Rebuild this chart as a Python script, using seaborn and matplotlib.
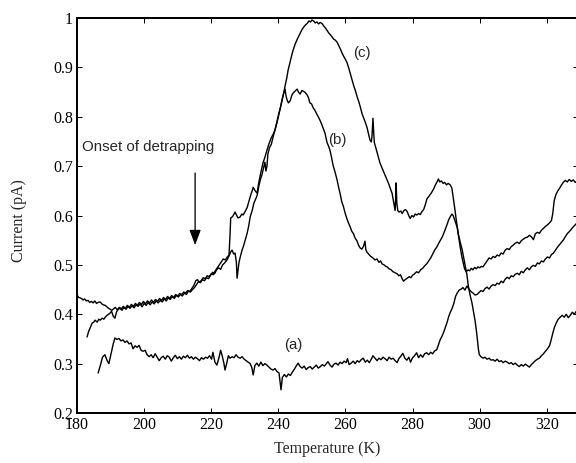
import numpy as np
import pandas as pd
import matplotlib
matplotlib.use("Agg")
import matplotlib.pyplot as plt
import seaborn as sns

# ---------------- data ----------------
T_a = [186.3, 186.9, 187.6, 188.3, 189.0, 189.5, 190.2, 190.8, 191.3, 191.9, 192.5, 193.1, 193.7, 194.3, 194.9,
       195.5, 196.1, 196.7, 197.3, 197.9, 198.5, 199.1, 199.7, 200.3, 200.9, 201.5, 202.1, 202.7, 203.3, 203.9,
       204.5, 205.1, 205.7, 206.3, 206.9, 207.5, 208.1, 208.7, 209.3, 209.9, 210.5, 211.1, 211.7, 212.3, 212.9,
       213.5, 214.1, 214.7, 215.3, 215.9, 216.5, 217.1, 217.7, 218.3, 218.9, 219.5, 220.1, 220.5, 221.1, 221.7,
       222.3, 222.8, 223.3, 223.8, 224.1, 224.6, 225.1, 225.6, 226.2, 226.8, 227.4, 228.0, 228.6, 229.2, 229.8,
       230.4, 231.0, 231.6, 232.1, 232.5, 233.0, 233.6, 234.2, 234.8, 235.4, 236.0, 236.6, 237.2, 237.8, 238.4,
       239.0, 239.6, 240.2, 240.8, 241.2, 241.8, 242.4, 243.0, 243.6, 244.2, 244.8, 245.4, 245.9, 246.5, 247.1,
       247.7, 248.3, 248.9, 249.5, 250.1, 250.7, 251.3, 251.9, 252.5, 253.1, 253.7, 254.3, 254.8, 255.4, 256.0,
       256.6, 257.2, 257.8, 258.4, 259.0, 259.6, 260.2, 260.6, 261.1, 261.7, 262.3, 262.9, 263.5, 264.1, 264.7,
       265.3, 265.9, 266.5, 267.1, 267.7, 268.2, 268.8, 269.4, 270.0, 270.6, 271.2, 271.8, 272.4, 273.0, 273.6,
       274.2, 274.8, 275.4, 275.9, 276.5, 277.1, 277.7, 278.3, 278.9, 279.4, 280.0, 280.6, 281.2, 281.8, 282.4,
       283.0, 283.6, 284.2, 284.8, 285.4, 286.0, 286.6, 287.2, 287.6, 288.2, 288.8, 289.3, 289.8, 290.3, 290.8,
       291.3, 291.8, 292.3, 292.8, 293.3, 293.9, 294.5, 295.0, 295.6, 296.2, 296.8, 297.4, 298.0, 298.6, 299.2,
       299.8, 300.4, 301.0, 301.6, 302.2, 302.8, 303.4, 304.0, 304.6, 305.2, 305.8, 306.4, 307.0, 307.6, 308.2,
       308.8, 309.4, 310.0, 310.6, 311.2, 311.8, 312.4, 313.0, 313.6, 314.2, 314.8, 315.4, 316.0, 316.6, 317.2,
       317.8, 318.4, 319.0, 319.6, 320.2, 320.8, 321.4, 322.0, 322.6, 323.2, 323.8, 324.4, 325.0, 325.6, 326.2,
       326.8, 327.4, 328.0, 328.6, 329.2]
I_a = [0.281, 0.295, 0.313, 0.318, 0.306, 0.300, 0.322, 0.340, 0.352, 0.349, 0.351, 0.346, 0.348, 0.343, 0.346,
       0.340, 0.342, 0.330, 0.336, 0.333, 0.337, 0.327, 0.325, 0.327, 0.318, 0.314, 0.318, 0.312, 0.320, 0.313,
       0.306, 0.312, 0.315, 0.309, 0.316, 0.313, 0.305, 0.312, 0.317, 0.310, 0.314, 0.309, 0.315, 0.312, 0.317,
       0.311, 0.314, 0.309, 0.313, 0.310, 0.306, 0.312, 0.309, 0.313, 0.311, 0.316, 0.309, 0.323, 0.303, 0.297,
       0.312, 0.327, 0.315, 0.300, 0.287, 0.300, 0.316, 0.311, 0.314, 0.312, 0.318, 0.313, 0.311, 0.314, 0.309,
       0.306, 0.303, 0.300, 0.292, 0.277, 0.296, 0.301, 0.295, 0.303, 0.296, 0.300, 0.297, 0.293, 0.289, 0.287,
       0.290, 0.284, 0.281, 0.247, 0.272, 0.278, 0.273, 0.279, 0.276, 0.283, 0.289, 0.296, 0.301, 0.294, 0.291,
       0.295, 0.288, 0.292, 0.294, 0.289, 0.293, 0.297, 0.291, 0.294, 0.298, 0.295, 0.300, 0.304, 0.297, 0.293,
       0.299, 0.301, 0.297, 0.303, 0.300, 0.305, 0.302, 0.310, 0.298, 0.301, 0.305, 0.300, 0.306, 0.303, 0.308,
       0.311, 0.303, 0.307, 0.302, 0.309, 0.316, 0.311, 0.306, 0.311, 0.308, 0.313, 0.310, 0.306, 0.313, 0.309,
       0.311, 0.306, 0.302, 0.310, 0.315, 0.321, 0.311, 0.307, 0.313, 0.303, 0.312, 0.316, 0.322, 0.312, 0.318,
       0.313, 0.320, 0.322, 0.318, 0.323, 0.320, 0.326, 0.328, 0.336, 0.348, 0.356, 0.364, 0.374, 0.384, 0.396,
       0.405, 0.412, 0.422, 0.436, 0.443, 0.449, 0.451, 0.454, 0.449, 0.457, 0.451, 0.446, 0.443, 0.439, 0.440,
       0.444, 0.448, 0.446, 0.452, 0.455, 0.451, 0.457, 0.460, 0.458, 0.463, 0.461, 0.467, 0.464, 0.471, 0.475,
       0.472, 0.478, 0.476, 0.481, 0.483, 0.480, 0.487, 0.484, 0.490, 0.494, 0.490, 0.496, 0.499, 0.497, 0.504,
       0.502, 0.508, 0.506, 0.512, 0.516, 0.514, 0.521, 0.524, 0.530, 0.536, 0.541, 0.546, 0.551, 0.558, 0.564,
       0.568, 0.573, 0.578, 0.582, 0.587]

T_b = [183.0, 183.5, 183.9, 184.5, 185.0, 185.4, 186.0, 186.5, 186.9, 187.5, 188.0, 188.4, 189.0, 189.4, 189.8,
       190.3, 190.8, 191.3, 191.8, 192.3, 192.8, 193.4, 194.0, 194.6, 195.2, 195.8, 196.4, 197.0, 197.6, 198.2,
       198.8, 199.4, 200.0, 200.6, 201.2, 201.8, 202.4, 203.0, 203.6, 204.2, 204.8, 205.4, 206.0, 206.6, 207.2,
       207.8, 208.4, 209.0, 209.6, 210.2, 210.8, 211.4, 212.0, 212.6, 213.2, 213.8, 214.4, 215.0, 215.6, 216.2,
       216.8, 217.4, 218.0, 218.6, 219.2, 219.8, 220.4, 221.0, 221.6, 222.2, 222.8, 223.4, 224.0, 224.7, 225.3,
       225.8, 226.2, 226.7, 227.1, 227.5, 227.7, 228.0, 228.3, 228.8, 229.2, 229.7, 230.2, 230.7, 231.2, 231.6,
       232.2, 232.7, 233.1, 233.7, 234.2, 234.7, 235.1, 235.6, 236.0, 236.3, 236.6, 236.9, 237.4, 237.9, 238.4,
       239.0, 239.5, 240.0, 240.6, 241.1, 241.6, 242.0, 242.3, 242.6, 243.0, 243.5, 244.0, 244.4, 245.0, 245.6,
       246.0, 246.5, 247.0, 247.4, 248.0, 248.6, 249.0, 249.4, 249.9, 250.4, 250.9, 251.4, 251.9, 252.4, 252.9,
       253.4, 253.9, 254.5, 255.0, 255.4, 255.9, 256.3, 256.9, 257.5, 258.0, 258.4, 258.9, 259.4, 259.9, 260.4,
       260.9, 261.4, 261.9, 262.4, 262.9, 263.4, 263.9, 264.4, 264.9, 265.4, 265.8, 266.1, 266.4, 266.9, 267.4,
       268.2, 268.8, 269.4, 270.0, 270.5, 270.9, 271.5, 272.0, 272.4, 273.0, 273.6, 274.2, 274.8, 275.4, 275.9,
       276.4, 276.9, 277.3, 277.8, 278.4, 279.0, 279.5, 280.0, 280.6, 281.2, 281.8, 282.4, 283.0, 283.6, 284.2,
       284.8, 285.4, 286.0, 286.6, 287.2, 287.8, 288.3, 288.8, 289.3, 289.8, 290.3, 290.8, 291.3, 291.7, 292.1,
       292.5, 292.9, 293.3, 293.7, 294.2, 294.7, 295.1, 295.5, 296.0, 296.5, 297.0, 297.5, 298.0, 298.5, 299.0,
       299.5, 300.0, 300.5, 301.0, 301.6, 302.2, 302.8, 303.4, 304.0, 304.6, 305.2, 305.8, 306.4, 307.0, 307.6,
       308.2, 308.8, 309.4, 310.0, 310.6, 311.2, 311.8, 312.4, 313.0, 313.6, 314.2, 314.8, 315.4, 316.0, 316.6,
       317.2, 317.8, 318.4, 319.0, 319.6, 320.2, 320.8, 321.4, 321.8, 322.2, 322.7, 323.2, 323.8, 324.4, 324.9,
       325.5, 326.1, 326.7, 327.3, 327.9, 328.5, 329.1]
I_b = [0.354, 0.366, 0.372, 0.382, 0.384, 0.388, 0.384, 0.390, 0.388, 0.392, 0.390, 0.394, 0.398, 0.400, 0.402,
       0.406, 0.396, 0.392, 0.405, 0.410, 0.412, 0.408, 0.414, 0.410, 0.416, 0.412, 0.417, 0.413, 0.419, 0.416,
       0.421, 0.415, 0.422, 0.418, 0.424, 0.419, 0.425, 0.421, 0.427, 0.423, 0.428, 0.425, 0.431, 0.427, 0.433,
       0.430, 0.436, 0.432, 0.438, 0.435, 0.440, 0.437, 0.443, 0.440, 0.447, 0.445, 0.450, 0.454, 0.460, 0.466,
       0.464, 0.470, 0.468, 0.474, 0.472, 0.479, 0.485, 0.482, 0.490, 0.494, 0.491, 0.500, 0.504, 0.510, 0.518,
       0.526, 0.530, 0.522, 0.524, 0.505, 0.473, 0.490, 0.506, 0.520, 0.530, 0.540, 0.552, 0.564, 0.580, 0.597,
       0.610, 0.625, 0.631, 0.641, 0.660, 0.674, 0.682, 0.696, 0.708, 0.690, 0.700, 0.725, 0.738, 0.744, 0.758,
       0.773, 0.786, 0.800, 0.818, 0.834, 0.848, 0.856, 0.842, 0.834, 0.828, 0.832, 0.843, 0.848, 0.852, 0.856,
       0.850, 0.846, 0.853, 0.852, 0.849, 0.844, 0.838, 0.828, 0.826, 0.818, 0.813, 0.806, 0.800, 0.793, 0.785,
       0.776, 0.767, 0.748, 0.740, 0.732, 0.716, 0.702, 0.688, 0.672, 0.656, 0.645, 0.628, 0.618, 0.605, 0.594,
       0.585, 0.577, 0.568, 0.563, 0.554, 0.549, 0.540, 0.534, 0.532, 0.538, 0.548, 0.530, 0.526, 0.522, 0.518,
       0.514, 0.510, 0.512, 0.505, 0.508, 0.502, 0.500, 0.497, 0.496, 0.492, 0.490, 0.486, 0.484, 0.482, 0.478,
       0.480, 0.472, 0.467, 0.470, 0.473, 0.476, 0.474, 0.479, 0.482, 0.486, 0.484, 0.490, 0.493, 0.498, 0.502,
       0.508, 0.514, 0.522, 0.530, 0.536, 0.544, 0.550, 0.556, 0.564, 0.573, 0.582, 0.592, 0.598, 0.603, 0.600,
       0.592, 0.584, 0.576, 0.558, 0.536, 0.516, 0.504, 0.492, 0.486, 0.490, 0.488, 0.493, 0.490, 0.495, 0.492,
       0.496, 0.494, 0.497, 0.496, 0.502, 0.508, 0.514, 0.512, 0.517, 0.515, 0.520, 0.518, 0.524, 0.522, 0.530,
       0.533, 0.531, 0.537, 0.540, 0.544, 0.546, 0.543, 0.549, 0.552, 0.555, 0.556, 0.560, 0.557, 0.551, 0.563,
       0.566, 0.564, 0.570, 0.574, 0.578, 0.581, 0.585, 0.590, 0.605, 0.630, 0.642, 0.649, 0.655, 0.662, 0.667,
       0.671, 0.668, 0.673, 0.669, 0.672, 0.667, 0.670]

T_c = [180.0, 180.5, 181.0, 181.5, 181.8, 182.3, 182.8, 183.3, 183.8, 184.3, 184.8, 185.3, 185.8, 186.3, 186.9,
       187.4, 187.9, 188.4, 188.9, 189.4, 189.9, 190.4, 190.9, 191.4, 192.0, 192.6, 193.2, 193.8, 194.4, 195.0,
       195.6, 196.2, 196.8, 197.4, 198.0, 198.6, 199.2, 199.8, 200.4, 201.0, 201.6, 202.2, 202.8, 203.4, 204.0,
       204.6, 205.2, 205.8, 206.4, 207.0, 207.6, 208.2, 208.8, 209.4, 210.0, 210.6, 211.2, 211.8, 212.4, 213.0,
       213.6, 214.2, 214.8, 215.4, 215.9, 216.4, 217.0, 217.6, 218.2, 218.8, 219.4, 220.0, 220.6, 221.2, 221.8,
       222.4, 223.0, 223.6, 224.2, 224.8, 225.3, 225.6, 225.8, 226.4, 227.1, 227.6, 228.0, 228.6, 229.1, 229.5,
       230.1, 230.7, 231.2, 231.7, 232.2, 232.5, 233.1, 233.7, 234.1, 234.5, 235.0, 235.4, 236.0, 236.6, 237.2,
       237.8, 238.4, 239.0, 239.6, 240.2, 240.6, 241.1, 241.6, 242.0, 242.5, 242.9, 243.4, 243.9, 244.4, 245.0,
       245.5, 246.0, 246.5, 247.0, 247.6, 248.1, 248.6, 249.1, 249.6, 250.0, 250.5, 251.0, 251.5, 252.0, 252.5,
       253.0, 253.5, 254.0, 254.5, 255.0, 255.5, 256.0, 256.5, 257.0, 257.5, 258.0, 258.5, 259.0, 259.5, 260.0,
       260.5, 261.0, 261.5, 262.0, 262.5, 263.0, 263.5, 264.0, 264.5, 264.9, 265.4, 265.9, 266.4, 266.9, 267.3,
       267.7, 267.9, 268.2, 268.4, 268.6, 269.0, 269.5, 270.0, 270.3, 270.8, 271.4, 271.9, 272.4, 272.9, 273.4,
       273.9, 274.3, 274.8, 275.0, 275.1, 275.3, 275.6, 276.0, 276.5, 276.9, 277.4, 277.9, 278.4, 278.9, 279.3,
       279.8, 280.3, 280.8, 281.3, 281.8, 282.3, 282.8, 283.3, 283.8, 284.3, 284.8, 285.3, 285.8, 286.3, 286.8,
       287.3, 287.7, 288.1, 288.6, 289.1, 289.6, 290.1, 290.6, 291.2, 291.7, 292.1, 292.5, 293.0, 293.6, 294.2,
       294.8, 295.3, 295.8, 296.2, 296.6, 297.1, 297.7, 298.2, 298.6, 299.0, 299.3, 299.6, 299.9, 300.4, 301.0,
       301.6, 302.2, 302.8, 303.4, 304.0, 304.6, 305.2, 305.8, 306.4, 307.0, 307.6, 308.2, 308.8, 309.4, 310.0,
       310.6, 311.2, 311.8, 312.4, 313.0, 313.6, 314.2, 314.8, 315.4, 316.0, 316.6, 317.2, 317.8, 318.4, 319.0,
       319.6, 320.2, 320.8, 321.3, 321.8, 322.3, 322.8, 323.4, 324.0, 324.6, 325.2, 325.8, 326.4, 327.0, 327.6,
       328.2, 328.8, 329.3]
I_c = [0.439, 0.434, 0.433, 0.431, 0.429, 0.431, 0.427, 0.428, 0.424, 0.426, 0.423, 0.427, 0.422, 0.424, 0.425,
       0.421, 0.419, 0.418, 0.415, 0.412, 0.410, 0.408, 0.411, 0.414, 0.409, 0.414, 0.411, 0.416, 0.412, 0.418,
       0.414, 0.420, 0.416, 0.422, 0.418, 0.424, 0.420, 0.426, 0.421, 0.427, 0.423, 0.429, 0.424, 0.430, 0.426,
       0.432, 0.428, 0.434, 0.430, 0.436, 0.432, 0.438, 0.434, 0.440, 0.437, 0.442, 0.440, 0.445, 0.443, 0.448,
       0.446, 0.452, 0.458, 0.468, 0.470, 0.465, 0.468, 0.474, 0.472, 0.478, 0.476, 0.482, 0.480, 0.488, 0.494,
       0.500, 0.506, 0.512, 0.510, 0.516, 0.520, 0.560, 0.595, 0.598, 0.607, 0.600, 0.595, 0.597, 0.603, 0.601,
       0.608, 0.616, 0.628, 0.640, 0.650, 0.657, 0.650, 0.645, 0.664, 0.678, 0.694, 0.706, 0.718, 0.732, 0.745,
       0.756, 0.764, 0.773, 0.790, 0.808, 0.818, 0.834, 0.848, 0.862, 0.878, 0.894, 0.908, 0.922, 0.935, 0.947,
       0.955, 0.962, 0.969, 0.976, 0.982, 0.986, 0.989, 0.994, 0.992, 0.996, 0.994, 0.990, 0.992, 0.988, 0.991,
       0.989, 0.984, 0.980, 0.975, 0.970, 0.966, 0.962, 0.957, 0.955, 0.951, 0.944, 0.937, 0.929, 0.922, 0.916,
       0.909, 0.898, 0.886, 0.874, 0.862, 0.852, 0.840, 0.830, 0.818, 0.807, 0.798, 0.789, 0.779, 0.764, 0.753,
       0.749, 0.760, 0.797, 0.770, 0.748, 0.738, 0.726, 0.714, 0.706, 0.698, 0.688, 0.680, 0.672, 0.664, 0.654,
       0.645, 0.630, 0.610, 0.640, 0.666, 0.625, 0.610, 0.607, 0.609, 0.604, 0.610, 0.612, 0.608, 0.599, 0.594,
       0.600, 0.597, 0.603, 0.601, 0.604, 0.602, 0.608, 0.612, 0.622, 0.634, 0.638, 0.643, 0.648, 0.654, 0.662,
       0.668, 0.674, 0.668, 0.670, 0.665, 0.667, 0.662, 0.665, 0.662, 0.656, 0.637, 0.618, 0.592, 0.564, 0.546,
       0.530, 0.512, 0.494, 0.480, 0.458, 0.440, 0.423, 0.404, 0.388, 0.368, 0.350, 0.330, 0.318, 0.314, 0.311,
       0.313, 0.309, 0.311, 0.307, 0.308, 0.305, 0.309, 0.304, 0.306, 0.302, 0.305, 0.303, 0.300, 0.302, 0.298,
       0.301, 0.297, 0.294, 0.298, 0.295, 0.299, 0.296, 0.293, 0.298, 0.302, 0.306, 0.309, 0.311, 0.316, 0.320,
       0.325, 0.330, 0.336, 0.348, 0.362, 0.374, 0.382, 0.390, 0.394, 0.398, 0.394, 0.400, 0.393, 0.398, 0.404,
       0.400, 0.406, 0.402]

x_ticks = [180, 200, 220, 240, 260, 280, 300, 320]
y_ticks = [0.2, 0.3, 0.4, 0.5, 0.6, 0.7, 0.8, 0.9, 1.0]
y_tick_labels = ["0.2", "0.3", "0.4", "0.5", "0.6", "0.7", "0.8", "0.9", "1"]
curve_labels = ["(a)", "(b)", "(c)"]
label_pos_T = [244.4, 257.5, 265.0]
label_pos_I = [0.338, 0.753, 0.929]
annot_text = "Onset of detrapping"

# ---------------- style ----------------
sns.set_style("ticks")
plt.rcParams["font.family"] = ["Liberation Serif", "DejaVu Serif"]
plt.rcParams["xtick.direction"] = "in"
plt.rcParams["ytick.direction"] = "in"

W, H = 576, 463
fig = plt.figure(figsize=(W / 72, H / 72), dpi=72)
ax = fig.add_axes([77 / W, 50 / H, 501 / W, 395 / H])

for T, I in [(T_a, I_a), (T_b, I_b), (T_c, I_c)]:
    df = pd.DataFrame({"T": T, "I": I})
    sns.lineplot(data=df, x="T", y="I", ax=ax, sort=False, estimator=None,
                 color="black", linewidth=1.4)

ax.set_xlim(180, 329.3)
ax.set_ylim(0.2, 1.0)
ax.set_xticks(x_ticks)
ax.set_xticklabels([str(t) for t in x_ticks])
ax.set_yticks(y_ticks)
ax.set_yticklabels(y_tick_labels)
ax.tick_params(axis="both", which="both", direction="in", length=5, width=1.0,
               top=True, right=True, labelsize=16, pad=4, colors="black")
for s in ax.spines.values():
    s.set_linewidth(2.0)
    s.set_color("black")

ax.set_xlabel("Temperature (K)", fontsize=16)
ax.set_ylabel("Current (pA)", fontsize=16)
ax.xaxis.set_label_coords(0.5, -0.070)
ax.yaxis.set_label_coords(-0.100, 0.486)

sans = ["Liberation Sans", "DejaVu Sans"]
for lab, tx, iy in zip(curve_labels, label_pos_T, label_pos_I):
    ax.text(tx, iy, lab, fontsize=15, family=sans, ha="center", va="center")

ax.text(181.5, 0.738, annot_text, fontsize=15, family=sans, ha="left", va="center")
ax.annotate("", xy=(215.2, 0.540), xytext=(215.2, 0.686),
            arrowprops=dict(arrowstyle="-|>,head_length=0.8,head_width=0.3",
                            color="black", lw=1.3, mutation_scale=16,
                            shrinkA=0, shrinkB=0))

fig.savefig("out.png", dpi=72)
